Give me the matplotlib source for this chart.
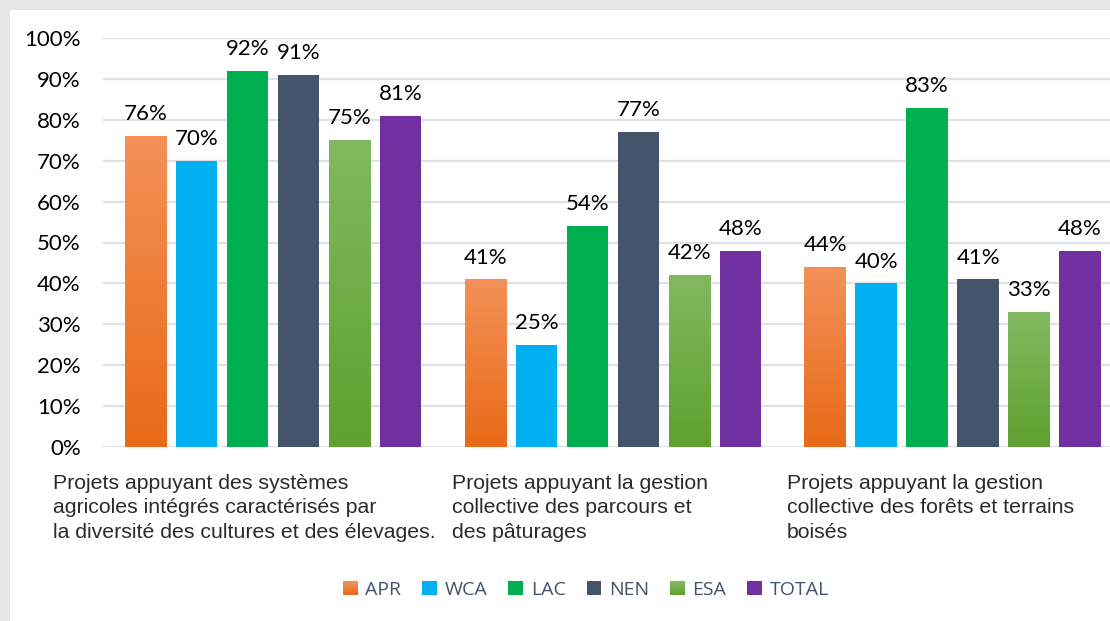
import numpy as np
import matplotlib
matplotlib.use("Agg")
from matplotlib import pyplot as plt
from matplotlib.colors import LinearSegmentedColormap
from matplotlib.patches import Rectangle
from matplotlib.legend_handler import HandlerBase
import matplotlib.transforms as mtransforms

# Données
categories = [
    "Projets appuyant des systèmes\nagricoles intégrés caractérisés par\nla diversité des cultures et des élevages.",
    "Projets appuyant la gestion\ncollective des parcours et\ndes pâturages",
    "Projets appuyant la gestion\ncollective des forêts et terrains\nboisés",
]
regions = ["APR", "WCA", "LAC", "NEN", "ESA", "TOTAL"]
apr = [76, 41, 44]
wca = [70, 25, 40]
lac = [92, 54, 83]
nen = [91, 77, 41]
esa = [75, 42, 33]
total = [81, 48, 48]
series = [apr, wca, lac, nen, esa, total]
y_ticks = list(range(0, 101, 10))

# Couleurs (haut, bas) pour les dégradés
colors = {
    "APR": ("#F39158", "#E86A18"),
    "WCA": ("#00B0F0", "#00B0F0"),
    "LAC": ("#00B050", "#00B050"),
    "NEN": ("#44546A", "#44546A"),
    "ESA": ("#82B960", "#5FA030"),
    "TOTAL": ("#7030A0", "#7030A0"),
}


# carré de légende en dégradé
class GradientHandler(HandlerBase):
    def __init__(self, cmap):
        super().__init__()
        self.cmap = cmap

    def create_artists(self, legend, orig_handle, xdescent, ydescent,
                       width, height, fontsize, trans):
        n = 12
        arts = []
        for k in range(n):
            r = Rectangle((-xdescent, -ydescent + height * k / n), width, height / n + 0.3,
                          facecolor=self.cmap(k / (n - 1)), edgecolor="none", transform=trans)
            arts.append(r)
        return arts


fig = plt.figure(figsize=(11.1, 6.21), dpi=100)
fig.patch.set_facecolor("white")
# bande grise du cadre
fig.patches.append(Rectangle((0, 1 - 10 / 621), 1, 10 / 621, transform=fig.transFigure,
                             facecolor="#E6E6E6", edgecolor="none", zorder=0))
fig.patches.append(Rectangle((0, 0), 10 / 1110, 1, transform=fig.transFigure,
                             facecolor="#E6E6E6", edgecolor="none", zorder=0))

ax = fig.add_axes([103 / 1110, 1 - 447 / 621, 1 - 103 / 1110, (447 - 38) / 621])

x = np.arange(len(categories))
step = 0.15
width = 0.122
xlim = (-0.5, 2.463)

handler_map = {}
for i, (name, vals) in enumerate(zip(regions, series)):
    pos = x + (i - 2.5) * step
    top_c, bot_c = colors[name]
    bars = ax.bar(pos, vals, width=width, color=bot_c, label=name, zorder=2)
    if top_c != bot_c:
        cmap = LinearSegmentedColormap.from_list(name, [bot_c, top_c])
        handler_map[bars] = GradientHandler(cmap)
        grad = np.linspace(0, 1, 256).reshape(-1, 1)
        for b in bars:
            x0, w, h = b.get_x(), b.get_width(), b.get_height()
            im = ax.imshow(grad, cmap=cmap, origin="lower", aspect="auto",
                           extent=[x0, x0 + w, 0, h], zorder=2.1)
            im.set_clip_path(b)
    for p, v in zip(pos, vals):
        ax.annotate(f"{v}%", (p, v), xytext=(0, 8.5), textcoords="offset points",
                    ha="center", va="bottom", fontsize=16, family="Lato", color="black")

ax.set_xlim(*xlim)
ax.set_ylim(0, 100)
ax.set_yticks(y_ticks)
ax.set_yticklabels([f"{t}%" for t in y_ticks], fontsize=16, family="Lato")
ax.tick_params(axis="y", length=0, pad=16)
ax.tick_params(axis="x", length=0, labelbottom=False)
ax.grid(axis="y", color="#DDE2EA", linewidth=1.6, zorder=0)
ax.set_axisbelow(True)
for s in ax.spines.values():
    s.set_visible(False)

# étiquettes de catégories
offsets = [-0.647, -0.474, -0.487]
trans = mtransforms.blended_transform_factory(ax.transData, ax.transAxes)
for xi, off, lab in zip(x, offsets, categories):
    ax.text(xi + off, -0.066, lab, transform=trans, ha="left", va="top",
            fontsize=15.3, family="Liberation Sans", color="#2B2B2B", linespacing=1.36)

leg = fig.legend(loc="center", bbox_to_anchor=(586 / 1110, 1 - 590 / 621), ncol=6,
                 frameon=False, handlelength=0.75, handleheight=0.75, handletextpad=0.4,
                 columnspacing=1.08, prop={"family": "Open Sans", "size": 14},
                 handler_map=handler_map)
for t in leg.get_texts():
    t.set_color("#44546A")

fig.savefig("out.png", dpi=100, facecolor="white")
